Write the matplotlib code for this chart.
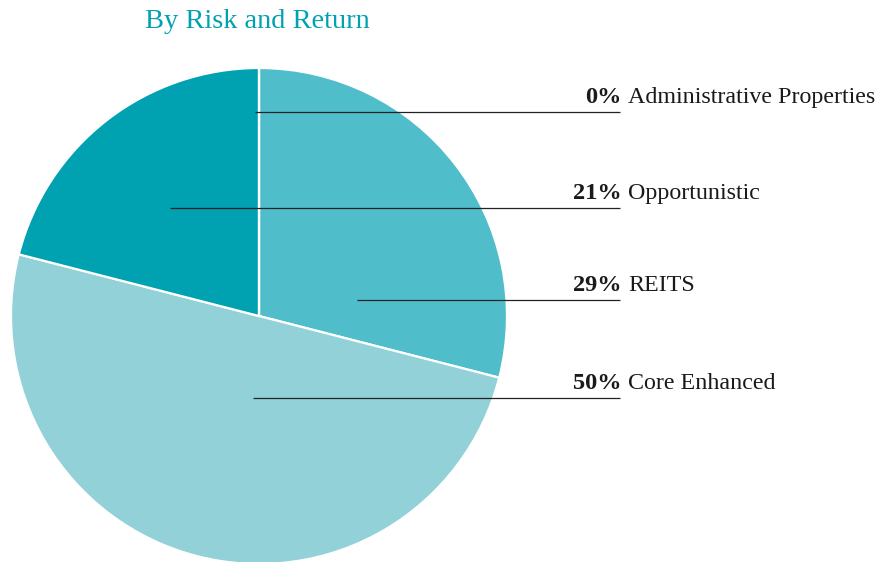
import matplotlib
matplotlib.use("Agg")
import matplotlib.pyplot as plt

categories = ["REITS", "Core Enhanced", "Opportunistic", "Administrative Properties"]
values = [29, 50, 21, 0]
colors = ["#50bdcb", "#93d1d9", "#00a1b0", "#00a1b0"]

# label anchor points (inside pie, data units) and label rows
label_order = ["Administrative Properties", "Opportunistic", "REITS", "Core Enhanced"]
line_start_x = [-0.016, -0.359, 0.395, -0.024]
line_y = [0.8226, 0.435, 0.0645, -0.331]

W, H = 882, 562
fig = plt.figure(figsize=(W / 100, H / 100), dpi=100)
cx, cy, r = 259, 316, 248
ax = fig.add_axes([(cx - r) / W, (H - cy - r) / H, 2 * r / W, 2 * r / H])
ax.pie(values, colors=colors, startangle=90, counterclock=False,
       wedgeprops=dict(edgecolor="white", linewidth=1.6))
ax.set_xlim(-1, 1)
ax.set_ylim(-1, 1)
ax.set_aspect("equal")
ax.axis("off")

serif = ["Liberation Serif", "DejaVu Serif"]
x_end = (620 - cx) / r
x_pct = (622 - cx) / r
x_name = (628 - cx) / r
val_map = dict(zip(categories, values))
for name, sx, ly in zip(label_order, line_start_x, line_y):
    ax.plot([sx, x_end], [ly, ly], color="#222222", lw=0.9, clip_on=False,
            solid_capstyle="butt")
    ax.text(x_pct, ly + 9 / r, f"{val_map[name]}%", ha="right", va="baseline",
            fontsize=17.6, fontweight="bold", family=serif, color="#1a1a1a")
    ax.text(x_name, ly + 9 / r, name, ha="left", va="baseline",
            fontsize=17.3, family=serif, color="#1a1a1a")

fig.text(257 / W, 1 - 22 / H, "By Risk and Return", ha="center", va="center",
         fontsize=20.4, family=serif, color="#00a1b0")

fig.savefig("out.png", dpi=100)
